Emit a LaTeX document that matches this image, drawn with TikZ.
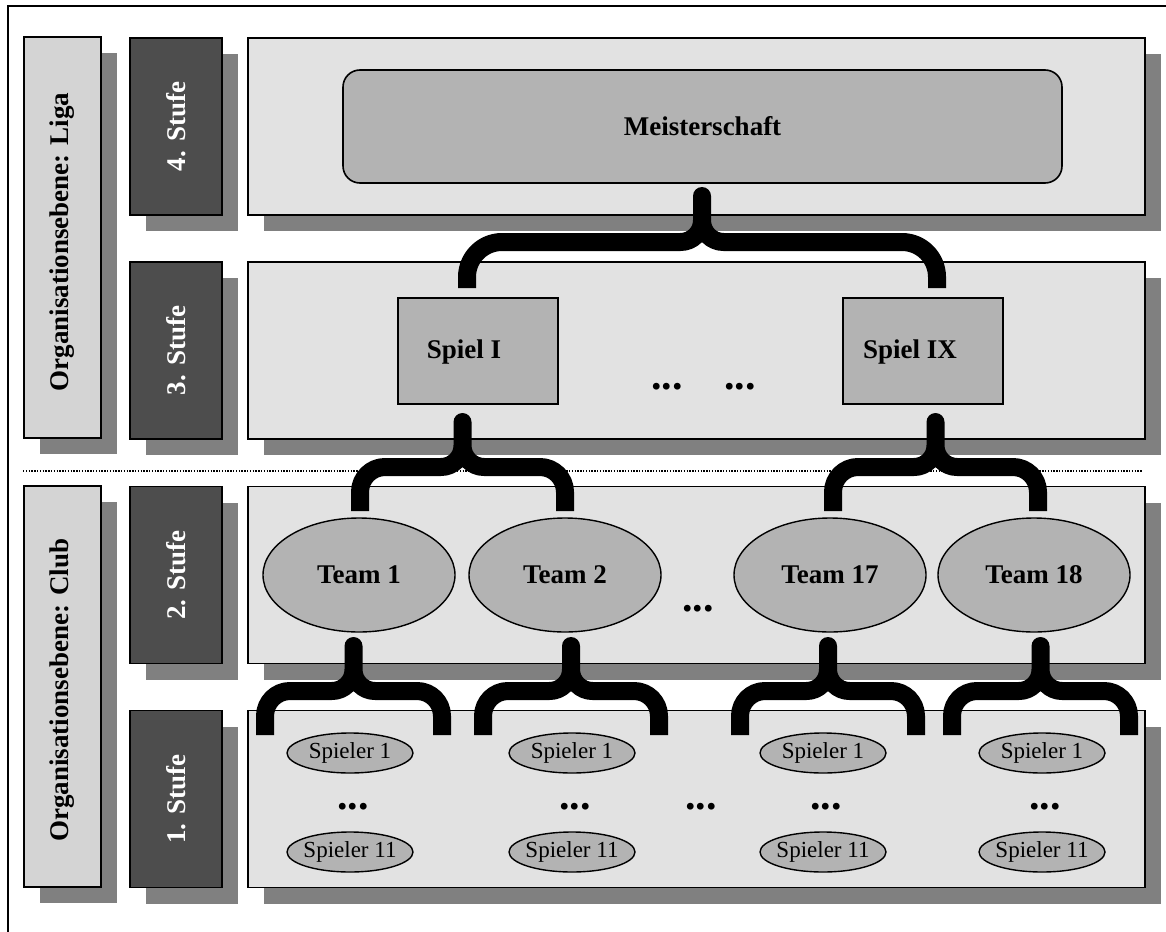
\documentclass[tikz,border=0pt]{standalone}
\usepackage{fontspec}
\setmainfont{Liberation Serif}
\usetikzlibrary{shapes.geometric,shadows}

\definecolor{orgfill}{RGB}{212,212,212}
\definecolor{stufefill}{RGB}{77,77,77}
\definecolor{panelfill}{RGB}{226,226,226}
\definecolor{midfill}{RGB}{179,179,179}
\definecolor{shadowgray}{RGB}{128,128,128}

% curly brace: tip x, half span, tip y, arm y, leg end y, corner radius
\newcommand\curlybrace[6]{%
  \pgfmathsetmacro\bxl{#1-#2}%
  \pgfmathsetmacro\bxr{#1+#2}%
  \pgfmathsetmacro\bkc{0.4477*#6}%
  \pgfmathsetmacro\bsr{21.5}%
  \pgfmathsetmacro\bks{0.4477*\bsr}%
  \draw[bracestroke]
    (\bxl,#5) -- (\bxl,#4+#6)
    .. controls (\bxl,#4+\bkc) and (\bxl+\bkc,#4) .. (\bxl+#6,#4)
    -- (#1-\bsr,#4)
    .. controls (#1-\bks,#4) and (#1,#4-\bks) .. (#1,#4-\bsr)
    -- (#1,#3+9) -- (#1,#4-\bsr)
    .. controls (#1,#4-\bks) and (#1+\bks,#4) .. (#1+\bsr,#4)
    -- (\bxr-#6,#4)
    .. controls (\bxr-\bkc,#4) and (\bxr,#4+\bkc) .. (\bxr,#4+#6)
    -- (\bxr,#5);%
}

\begin{document}
\begin{tikzpicture}[x=1pt,y=-1pt,
  every node/.style={inner sep=0pt, outer sep=0pt},
  boxshadow/.style={drop shadow={shadow xshift=16pt, shadow yshift=-16pt, fill=shadowgray, opacity=1}},
  frameline/.style={draw, line width=1.6pt},
  orgbox/.style={frameline, fill=orgfill, minimum width=77pt, minimum height=401pt, boxshadow},
  stufebox/.style={frameline, fill=stufefill, minimum width=92pt, minimum height=177pt, boxshadow},
  panel/.style={frameline, fill=panelfill, minimum width=897pt, minimum height=177pt, boxshadow},
  biglabel/.style={font=\fontsize{27}{30}\selectfont\bfseries},
  orglabel/.style={biglabel, rotate=90},
  stufelabel/.style={biglabel, rotate=90, text=white},
  meisterbox/.style={frameline, fill=midfill, rounded corners=17pt, minimum width=719pt, minimum height=113pt, biglabel},
  spielbox/.style={frameline, fill=midfill, minimum width=160pt, minimum height=106pt},
  teamell/.style={ellipse, draw, line width=1.4pt, fill=midfill, minimum width=192pt, minimum height=114pt, biglabel},
  spieler/.style={ellipse, draw, line width=1.4pt, fill=midfill, minimum width=126pt, minimum height=40pt, font=\fontsize{23}{26}\selectfont},
  dots/.style={anchor=base, font=\fontsize{42}{44}\selectfont\bfseries},
  bracestroke/.style={line width=18pt, line join=round, line cap=butt},
  sepline/.style={line width=1.3pt, dash pattern=on 1.4pt off 1.4pt},
]
\useasboundingbox (0,0) rectangle (1166,931);
\clip (0,0) rectangle (1166,931);
\fill[white] (0,0) rectangle (1166,931);

% outer frame
\draw[line width=2pt] (8,6) rectangle (1190,960);

% organisation levels
\node[orgbox] (liga) at (62.5,237.5) {};
\node[orgbox] (club) at (62.5,686.5) {};
\node[orglabel] (ligat) at (62.5,242) {Organisationsebene: Liga};
\node[orglabel] (clubt) at (62.5,690) {Organisationsebene: Club};

% level boxes
\node[stufebox] (s4) at (176,126.5) {};
\node[stufebox] (s3) at (176,350.5) {};
\node[stufebox] (s2) at (176,575) {};
\node[stufebox] (s1) at (176,799) {};
\node[stufelabel] (s4t) at (s4) {4. Stufe};
\node[stufelabel] (s3t) at (s3) {3. Stufe};
\node[stufelabel] (s2t) at (s2) {2. Stufe};
\node[stufelabel] (s1t) at (s1) {1. Stufe};

% panels
\node[panel] (p4) at (696.5,126.5) {};
\node[panel] (p3) at (696.5,350.5) {};
\node[panel] (p2) at (696.5,575) {};
\node[panel] (p1) at (696.5,799) {};

% separator between league and club
\draw[sepline] (23,471) -- (1142,471);

% level 4
\node[meisterbox] (meister) at (702.5,126.5) {Meisterschaft};

% level 3
\node[spielbox] (spiel1) at (478,351) {};
\node[spielbox] (spiel9) at (923,351) {};
\node[biglabel] (spiel1t) at (464,352) {Spiel I};
\node[biglabel] (spiel9t) at (910,352) {Spiel IX};
\node[dots] (d3a) at (667,389) {...};
\node[dots] (d3b) at (740,389) {...};

% level 2
\node[teamell] (t1) at (359,575) {Team 1};
\node[teamell] (t2) at (565,575) {Team 2};
\node[teamell] (t17) at (830,575) {Team 17};
\node[teamell] (t18) at (1034,575) {Team 18};
\node[dots] (d2) at (698,611) {...};

% level 1
\foreach \cx/\nm in {350/a,572/b,823/c,1042/d}{
  \node[spieler] (sp1\nm) at (\cx,753) {\makebox[0pt]{Spieler 1}};
  \node[spieler] (sp11\nm) at (\cx,852) {\makebox[0pt]{Spieler 11}};
  \node[dots] (d1\nm) at (\cx+3,809) {...};
}
\node[dots] (d1m) at (701,809) {...};

% braces
\curlybrace{702}{235}{187}{242}{288}{35}
\curlybrace{462.5}{102.5}{413}{467}{511}{25}
\curlybrace{935.5}{102.5}{413}{467}{511}{25}
\curlybrace{353.5}{88.5}{637}{691}{735}{25}
\curlybrace{571}{88}{637}{691}{735}{25}
\curlybrace{828}{88}{637}{691}{735}{25}
\curlybrace{1040.5}{88.5}{637}{691}{735}{25}
\end{tikzpicture}
\end{document}
